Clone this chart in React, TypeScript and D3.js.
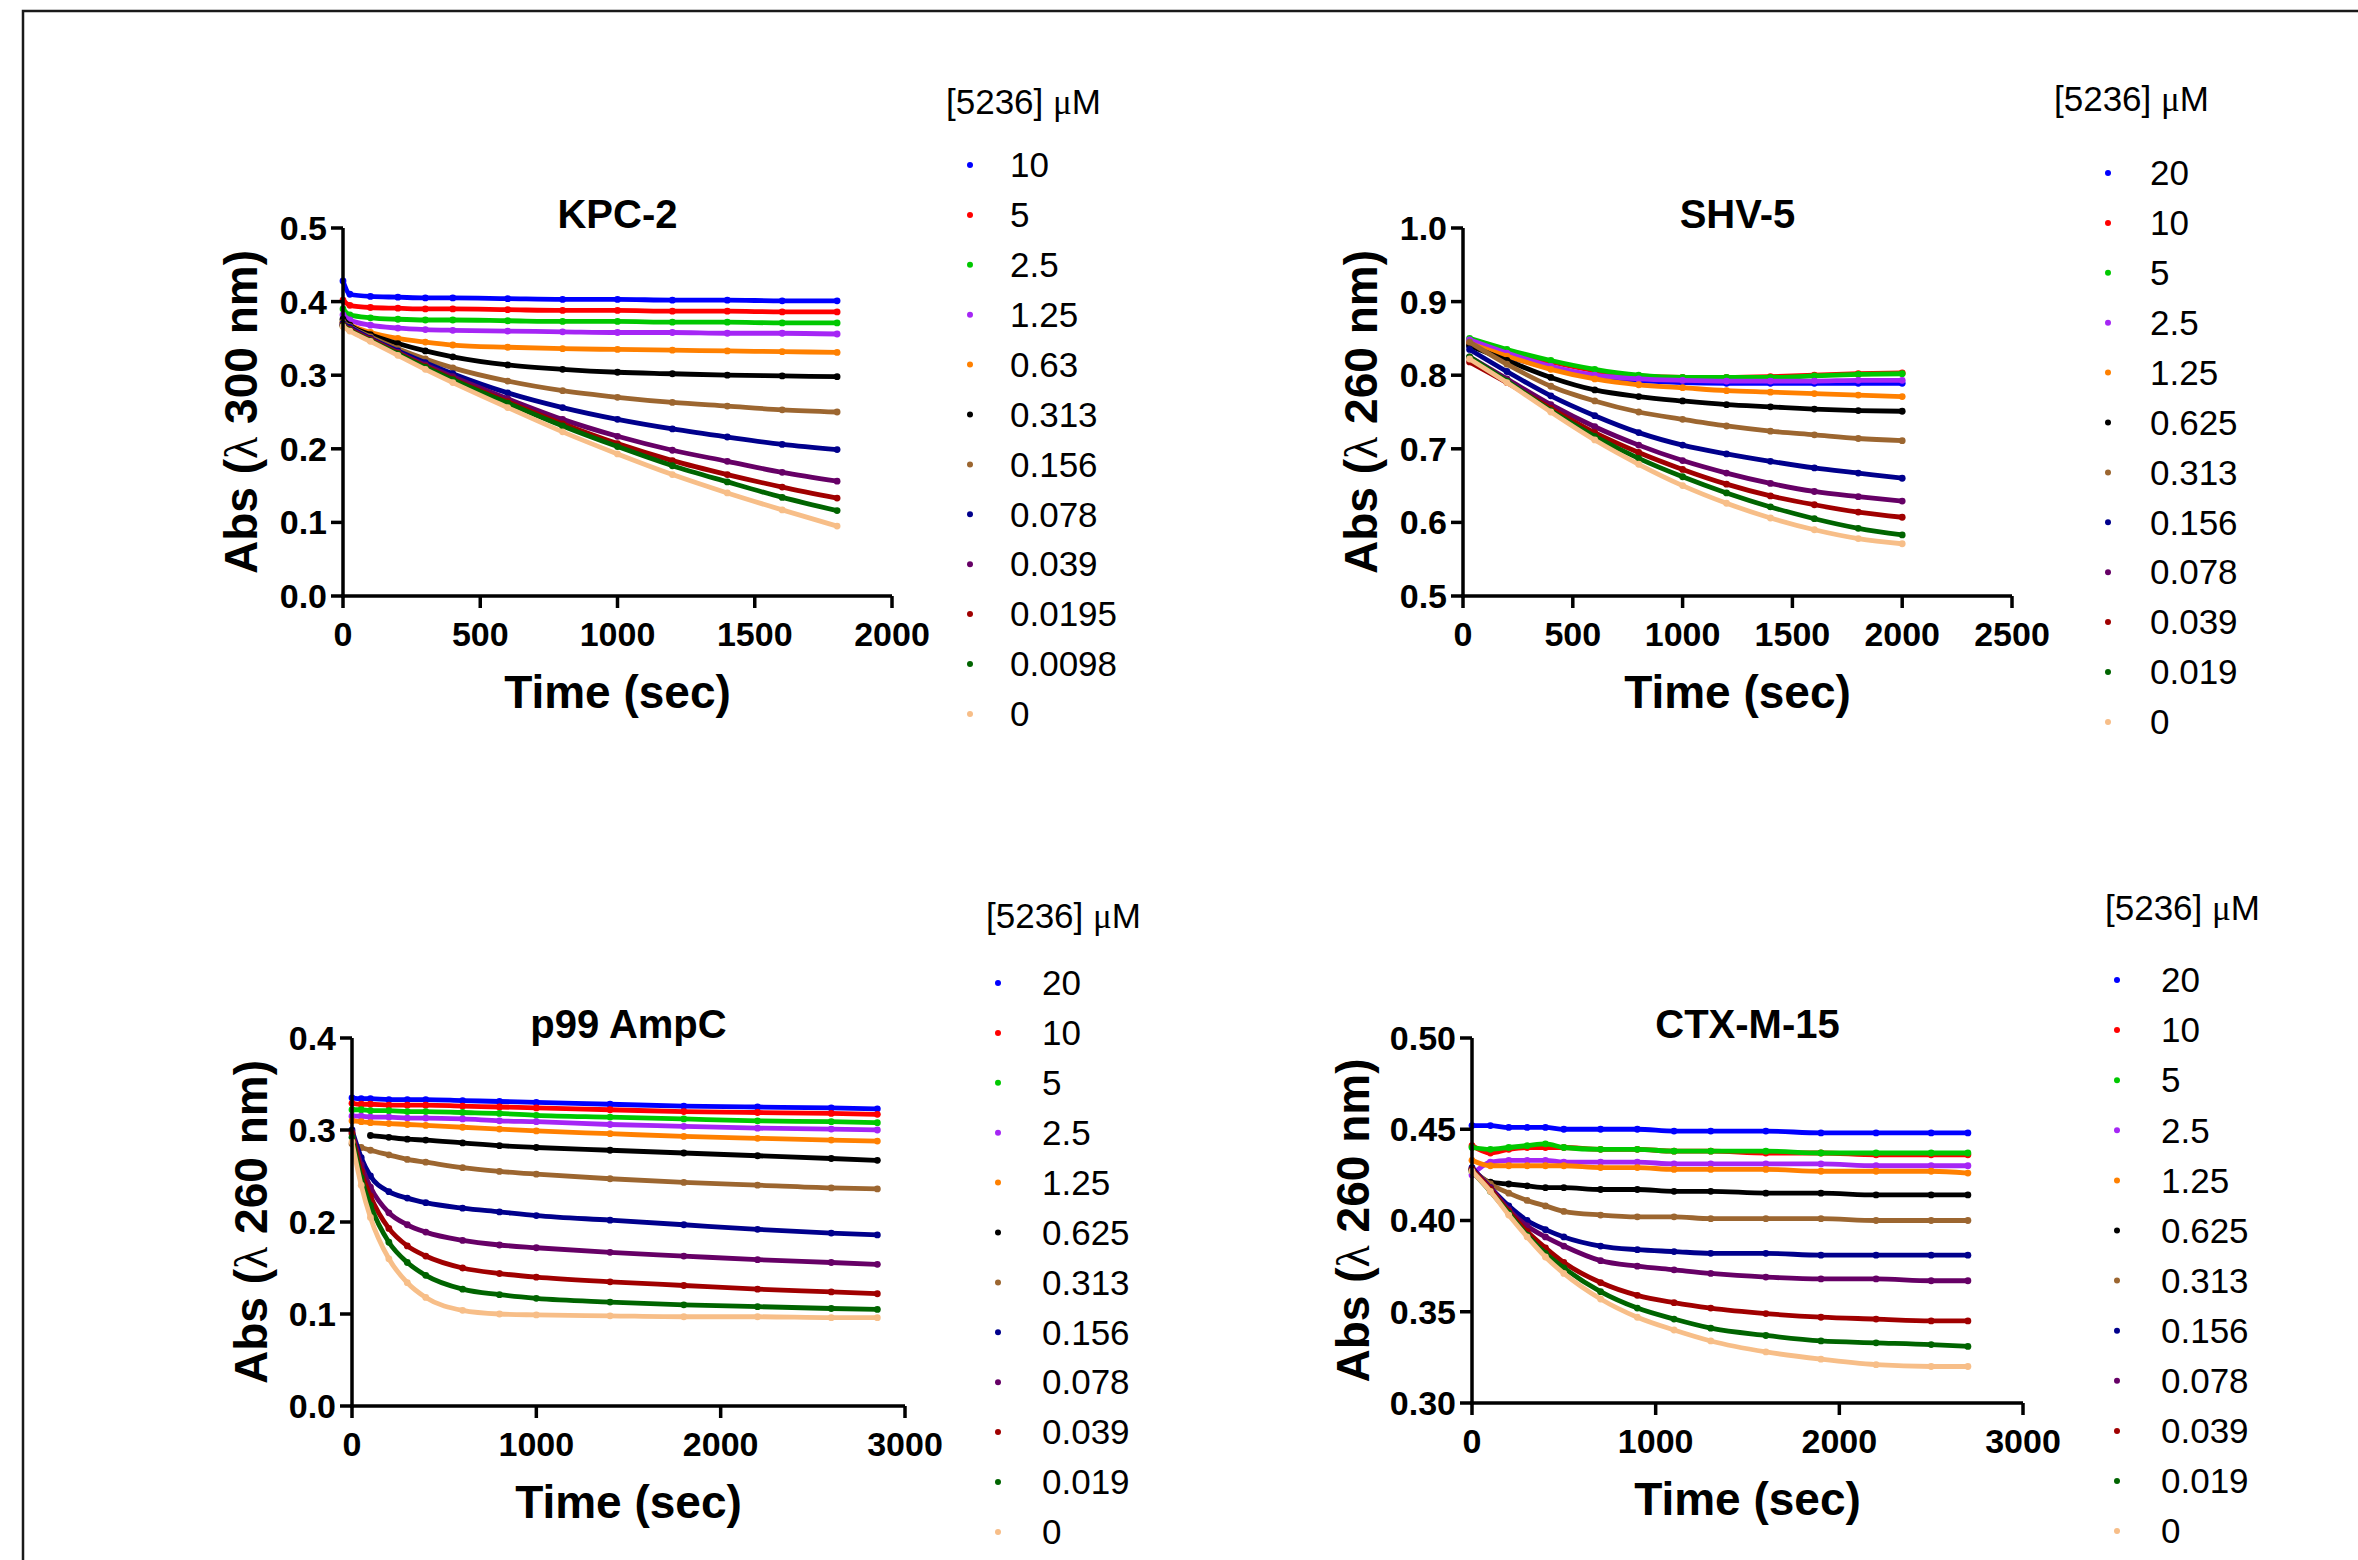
import React from "react";
import * as d3 from "d3";

// Prism-style series colours, in legend order
const seriesColours = ["#0000ff", "#ff0000", "#00c800", "#a526f5", "#ff8000", "#000000", "#9c6630", "#00008c", "#660066", "#a00000", "#006400", "#f7be88"];

// KPC-2
const kpcConc = ["10", "5", "2.5", "1.25", "0.63", "0.313", "0.156", "0.078", "0.039", "0.0195", "0.0098", "0"];
const kpcTime = [0, 25, 100, 200, 300, 400, 600, 800, 1000, 1200, 1400, 1600, 1800];
const kpcAbs = [
    [0.428, 0.410, 0.407, 0.406, 0.405, 0.405, 0.404, 0.403, 0.403, 0.402, 0.402, 0.401, 0.401],
    [0.402, 0.395, 0.392, 0.391, 0.390, 0.390, 0.389, 0.388, 0.388, 0.387, 0.387, 0.386, 0.386],
    [0.390, 0.382, 0.378, 0.376, 0.375, 0.375, 0.374, 0.373, 0.373, 0.372, 0.372, 0.371, 0.371],
    [0.382, 0.375, 0.368, 0.364, 0.362, 0.361, 0.360, 0.359, 0.358, 0.358, 0.357, 0.357, 0.356],
    [0.372, 0.368, 0.358, 0.350, 0.345, 0.341, 0.338, 0.336, 0.335, 0.334, 0.333, 0.332, 0.331],
    [0.376, 0.368, 0.355, 0.343, 0.333, 0.325, 0.314, 0.308, 0.304, 0.302, 0.300, 0.299, 0.298],
    [0.372, 0.366, 0.352, 0.336, 0.322, 0.310, 0.292, 0.279, 0.270, 0.263, 0.258, 0.253, 0.250],
    [0.370, 0.365, 0.350, 0.333, 0.317, 0.302, 0.276, 0.256, 0.240, 0.227, 0.216, 0.206, 0.199],
    [0.368, 0.363, 0.349, 0.331, 0.314, 0.298, 0.268, 0.240, 0.217, 0.198, 0.183, 0.168, 0.156],
    [0.368, 0.362, 0.348, 0.330, 0.312, 0.295, 0.264, 0.234, 0.207, 0.184, 0.165, 0.148, 0.133],
    [0.367, 0.361, 0.347, 0.329, 0.311, 0.294, 0.262, 0.231, 0.203, 0.177, 0.155, 0.134, 0.116],
    [0.366, 0.360, 0.346, 0.327, 0.308, 0.290, 0.256, 0.223, 0.193, 0.165, 0.140, 0.117, 0.095],
];
const kpcXTicks = [0, 500, 1000, 1500, 2000];
const kpcYTicks = [0, 0.1, 0.2, 0.3, 0.4, 0.5];

// SHV-5
const shvConc = ["20", "10", "5", "2.5", "1.25", "0.625", "0.313", "0.156", "0.078", "0.039", "0.019", "0"];
const shvTime = [30, 200, 400, 600, 800, 1000, 1200, 1400, 1600, 1800, 2000];
const shvAbs = [
    [0.840, 0.825, 0.810, 0.799, 0.793, 0.790, 0.789, 0.789, 0.789, 0.789, 0.789],
    [0.845, 0.832, 0.818, 0.806, 0.799, 0.797, 0.797, 0.798, 0.800, 0.802, 0.803],
    [0.850, 0.835, 0.820, 0.808, 0.800, 0.797, 0.797, 0.797, 0.799, 0.801, 0.802],
    [0.848, 0.830, 0.812, 0.800, 0.795, 0.793, 0.792, 0.792, 0.792, 0.793, 0.793],
    [0.843, 0.826, 0.808, 0.795, 0.787, 0.783, 0.779, 0.777, 0.775, 0.773, 0.771],
    [0.840, 0.820, 0.797, 0.780, 0.771, 0.765, 0.760, 0.757, 0.754, 0.752, 0.751],
    [0.845, 0.815, 0.785, 0.765, 0.750, 0.740, 0.731, 0.724, 0.719, 0.714, 0.711],
    [0.835, 0.805, 0.772, 0.745, 0.722, 0.705, 0.693, 0.683, 0.674, 0.667, 0.660],
    [0.825, 0.795, 0.760, 0.730, 0.705, 0.684, 0.667, 0.653, 0.642, 0.635, 0.629],
    [0.818, 0.790, 0.755, 0.722, 0.695, 0.672, 0.652, 0.636, 0.624, 0.614, 0.607],
    [0.825, 0.792, 0.752, 0.717, 0.687, 0.662, 0.640, 0.621, 0.605, 0.592, 0.583],
    [0.822, 0.790, 0.750, 0.712, 0.679, 0.650, 0.626, 0.606, 0.590, 0.578, 0.571],
];
const shvXTicks = [0, 500, 1000, 1500, 2000, 2500];
const shvYTicks = [0.5, 0.6, 0.7, 0.8, 0.9, 1.0];

// p99 AmpC
const ampConc = ["20", "10", "5", "2.5", "1.25", "0.625", "0.313", "0.156", "0.078", "0.039", "0.019", "0"];
const ampTime = [0, 50, 100, 200, 300, 400, 600, 800, 1000, 1400, 1800, 2200, 2600, 2850];
const ampAbs = [
    [0.335, 0.334, 0.334, 0.333, 0.333, 0.333, 0.332, 0.331, 0.330, 0.328, 0.326, 0.325, 0.324, 0.323],
    [0.329, 0.328, 0.328, 0.327, 0.327, 0.327, 0.326, 0.325, 0.324, 0.322, 0.320, 0.319, 0.318, 0.317],
    [0.322, 0.322, 0.321, 0.321, 0.320, 0.320, 0.319, 0.318, 0.316, 0.314, 0.312, 0.310, 0.309, 0.308],
    [0.315, 0.315, 0.314, 0.314, 0.313, 0.313, 0.312, 0.310, 0.309, 0.306, 0.304, 0.302, 0.301, 0.300],
    [0.310, 0.309, 0.308, 0.307, 0.306, 0.305, 0.303, 0.301, 0.299, 0.296, 0.293, 0.291, 0.289, 0.288],
    [null, null, 0.294, 0.292, 0.290, 0.289, 0.286, 0.283, 0.281, 0.278, 0.275, 0.272, 0.269, 0.267],
    [0.285, 0.281, 0.278, 0.273, 0.268, 0.265, 0.259, 0.255, 0.252, 0.247, 0.243, 0.240, 0.237, 0.236],
    [0.300, 0.270, 0.250, 0.233, 0.226, 0.221, 0.215, 0.211, 0.207, 0.202, 0.197, 0.192, 0.188, 0.186],
    [0.298, 0.262, 0.238, 0.210, 0.197, 0.189, 0.180, 0.175, 0.172, 0.167, 0.163, 0.159, 0.156, 0.154],
    [0.296, 0.255, 0.228, 0.193, 0.174, 0.163, 0.150, 0.144, 0.140, 0.135, 0.131, 0.127, 0.124, 0.122],
    [0.292, 0.248, 0.218, 0.178, 0.156, 0.142, 0.127, 0.121, 0.117, 0.113, 0.110, 0.108, 0.106, 0.105],
    [0.287, 0.240, 0.205, 0.160, 0.134, 0.118, 0.104, 0.100, 0.099, 0.098, 0.097, 0.097, 0.096, 0.096],
];
const ampXTicks = [0, 1000, 2000, 3000];
const ampYTicks = [0, 0.1, 0.2, 0.3, 0.4];

// CTX-M-15
const ctxConc = ["20", "10", "5", "2.5", "1.25", "0.625", "0.313", "0.156", "0.078", "0.039", "0.019", "0"];
const ctxTime = [0, 100, 200, 300, 400, 500, 700, 900, 1100, 1300, 1600, 1900, 2200, 2500, 2700];
const ctxAbs = [
    [0.452, 0.452, 0.451, 0.451, 0.451, 0.450, 0.450, 0.450, 0.449, 0.449, 0.449, 0.448, 0.448, 0.448, 0.448],
    [0.441, 0.437, 0.439, 0.440, 0.440, 0.440, 0.439, 0.439, 0.438, 0.438, 0.437, 0.437, 0.436, 0.436, 0.436],
    [0.440, 0.439, 0.440, 0.441, 0.442, 0.440, 0.439, 0.439, 0.438, 0.438, 0.438, 0.437, 0.437, 0.437, 0.437],
    [0.425, 0.432, 0.433, 0.433, 0.433, 0.432, 0.432, 0.432, 0.431, 0.431, 0.431, 0.431, 0.430, 0.430, 0.430],
    [0.433, 0.430, 0.430, 0.430, 0.430, 0.430, 0.429, 0.429, 0.428, 0.428, 0.428, 0.427, 0.427, 0.427, 0.426],
    [0.428, 0.421, 0.420, 0.419, 0.418, 0.418, 0.417, 0.417, 0.416, 0.416, 0.415, 0.415, 0.414, 0.414, 0.414],
    [0.428, 0.420, 0.415, 0.411, 0.408, 0.405, 0.403, 0.402, 0.402, 0.401, 0.401, 0.401, 0.400, 0.400, 0.400],
    [0.429, 0.418, 0.408, 0.400, 0.395, 0.391, 0.386, 0.384, 0.383, 0.382, 0.382, 0.381, 0.381, 0.381, 0.381],
    [0.428, 0.418, 0.406, 0.397, 0.391, 0.386, 0.378, 0.375, 0.373, 0.371, 0.369, 0.368, 0.368, 0.367, 0.367],
    [0.428, 0.417, 0.405, 0.394, 0.385, 0.377, 0.366, 0.359, 0.355, 0.352, 0.349, 0.347, 0.346, 0.345, 0.345],
    [0.427, 0.416, 0.404, 0.392, 0.382, 0.374, 0.361, 0.352, 0.346, 0.341, 0.337, 0.334, 0.333, 0.332, 0.331],
    [0.427, 0.416, 0.403, 0.391, 0.380, 0.371, 0.357, 0.347, 0.340, 0.334, 0.328, 0.324, 0.321, 0.320, 0.320],
];
const ctxXTicks = [0, 1000, 2000, 3000];
const ctxYTicks = [0.30, 0.35, 0.40, 0.45, 0.50];

const SANS = "'Liberation Sans', Arial, sans-serif";
const SERIF = "'Liberation Serif', 'DejaVu Serif', serif";

const panels = [
    {
        title: "KPC-2", nm: "300", time: kpcTime, values: kpcAbs, conc: kpcConc,
        xDomain: [0, 2000], yDomain: [0, 0.5], xTicks: kpcXTicks, yTicks: kpcYTicks, yFmt: ".1f",
        left: 343, right: 892, top: 228, bottom: 596, yLabelX: 241,
        legend: {titleX: 946, titleY: 102, dotX: 970, textX: 1010, rowY: 165, step: 49.9},
    },
    {
        title: "SHV-5", nm: "260", time: shvTime, values: shvAbs, conc: shvConc,
        xDomain: [0, 2500], yDomain: [0.5, 1.0], xTicks: shvXTicks, yTicks: shvYTicks, yFmt: ".1f",
        left: 1463, right: 2012, top: 228, bottom: 596, yLabelX: 1361,
        legend: {titleX: 2054, titleY: 99, dotX: 2108, textX: 2150, rowY: 173, step: 49.9},
    },
    {
        title: "p99 AmpC", nm: "260", time: ampTime, values: ampAbs, conc: ampConc,
        xDomain: [0, 3000], yDomain: [0, 0.4], xTicks: ampXTicks, yTicks: ampYTicks, yFmt: ".1f",
        left: 352, right: 905, top: 1038, bottom: 1406, yLabelX: 251,
        legend: {titleX: 986, titleY: 916, dotX: 998, textX: 1042, rowY: 983, step: 49.9},
    },
    {
        title: "CTX-M-15", nm: "260", time: ctxTime, values: ctxAbs, conc: ctxConc,
        xDomain: [0, 3000], yDomain: [0.3, 0.5], xTicks: ctxXTicks, yTicks: ctxYTicks, yFmt: ".2f",
        left: 1472, right: 2023, top: 1038, bottom: 1403, yLabelX: 1353,
        legend: {titleX: 2105, titleY: 908, dotX: 2117, textX: 2161, rowY: 980, step: 50.1},
    },
];

const Panel = ({p}: {p: any}) => {
    const x = d3.scaleLinear().domain(p.xDomain).range([p.left, p.right]);
    const y = d3.scaleLinear().domain(p.yDomain).range([p.bottom, p.top]);
    const fmt = d3.format(p.yFmt);
    const cx = (p.left + p.right) / 2;
    const cy = (p.top + p.bottom) / 2;
    const line = d3.line<any>()
        .defined(d => d[1] != null)
        .x(d => x(d[0]))
        .y(d => y(d[1]))
        .curve(d3.curveMonotoneX);

    return (
        <g>
            {p.values.map((vals: (number | null)[], i: number) => {
                const pts = p.time.map((t: number, k: number) => [t, vals[k]]);
                return (
                    <g key={i}>
                        <path d={line(pts) || ""} fill="none" stroke={seriesColours[i]} strokeWidth={4.8}
                              strokeLinecap="round"/>
                        {pts.filter((d: any) => d[1] != null).map((d: any, k: number) => (
                            <circle key={k} cx={x(d[0])} cy={y(d[1])} r={3.4} fill={seriesColours[i]}/>
                        ))}
                    </g>
                );
            })}

            {/* axes */}
            <line x1={p.left} x2={p.left} y1={p.top} y2={p.bottom + 1.75} stroke="#000" strokeWidth={3.5}/>
            <line x1={p.left - 1.75} x2={p.right} y1={p.bottom} y2={p.bottom} stroke="#000" strokeWidth={3.5}/>
            {p.yTicks.map((t: number) => (
                <g key={"y" + t}>
                    <line x1={p.left - 12} x2={p.left} y1={y(t)} y2={y(t)} stroke="#000" strokeWidth={3.5}/>
                    <text x={p.left - 16} y={y(t)} dy="0.35em" textAnchor="end"
                          fontFamily={SANS} fontWeight="bold" fontSize={34}>{fmt(t)}</text>
                </g>
            ))}
            {p.xTicks.map((t: number) => (
                <g key={"x" + t}>
                    <line x1={x(t)} x2={x(t)} y1={p.bottom} y2={p.bottom + 12} stroke="#000" strokeWidth={3.5}/>
                    <text x={x(t)} y={p.bottom + 38} dy="0.35em" textAnchor="middle"
                          fontFamily={SANS} fontWeight="bold" fontSize={34}>{t}</text>
                </g>
            ))}

            <text x={cx} y={p.top - 14} dy="0.35em" textAnchor="middle"
                  fontFamily={SANS} fontWeight="bold" fontSize={40}>{p.title}</text>
            <text x={cx} y={p.bottom + 96} dy="0.35em" textAnchor="middle"
                  fontFamily={SANS} fontWeight="bold" fontSize={46}>Time (sec)</text>
            <text transform={`translate(${p.yLabelX},${cy}) rotate(-90)`} dy="0.35em" textAnchor="middle"
                  fontFamily={SANS} fontWeight="bold" fontSize={46}>
                Abs (<tspan fontFamily={SERIF} fontWeight="normal">λ</tspan> {p.nm} nm)
            </text>

            {/* legend */}
            <text x={p.legend.titleX} y={p.legend.titleY} dy="0.35em"
                  fontFamily={SANS} fontSize={35}>[5236] <tspan fontFamily={SERIF}>μ</tspan>M</text>
            {p.conc.map((c: string, i: number) => (
                <g key={"l" + i}>
                    <circle cx={p.legend.dotX} cy={p.legend.rowY + i * p.legend.step} r={3} fill={seriesColours[i]}/>
                    <text x={p.legend.textX} y={p.legend.rowY + i * p.legend.step} dy="0.35em"
                          fontFamily={SANS} fontSize={35}>{c}</text>
                </g>
            ))}
        </g>
    );
};

const App = () => {
    return (
        <svg width={2358} height={1560} viewBox="0 0 2358 1560"
             style={{position: "absolute", left: 0, top: 0, background: "#fff"}}>
            <rect x={0} y={0} width={2358} height={1560} fill="#fff"/>
            <rect x={23} y={11} width={2400} height={1600} fill="none" stroke="#1a1a1a" strokeWidth={2.5}/>
            {panels.map(p => <Panel key={p.title} p={p}/>)}
        </svg>
    );
};

export default App;
